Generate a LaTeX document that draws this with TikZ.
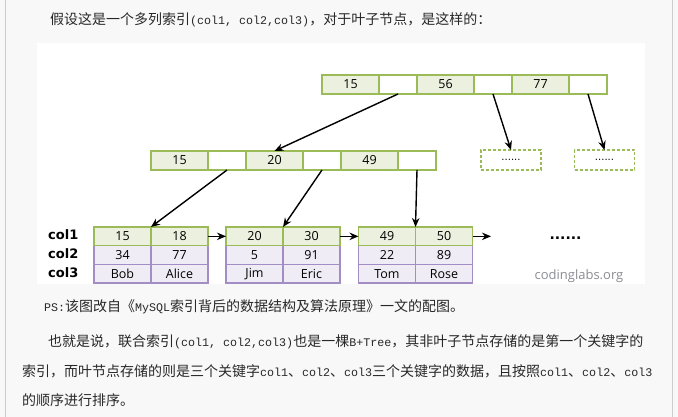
\documentclass[tikz,border=0pt]{standalone}
\usepackage{fontspec}
\setmainfont{DejaVu Sans}
\newfontfamily\cjkf{Noto Sans CJK SC}
\newfontfamily\monof{Liberation Mono}
\newfontfamily\opensans{Open Sans}
\usetikzlibrary{arrows.meta}

\definecolor{keyfill}{RGB}{235,241,222}
\definecolor{keyline}{RGB}{155,187,89}
\definecolor{rowfill}{RGB}{239,236,245}
\definecolor{rowline}{RGB}{162,142,196}
\definecolor{pagebg}{RGB}{248,248,248}
\definecolor{rulegray}{RGB}{204,204,204}
\definecolor{ink}{RGB}{40,40,40}
\definecolor{credit}{RGB}{140,140,150}

% latin runs inside the Chinese prose are set in a half-width mono face
\newcommand\ms[1]{{\monof\fontsize{11.67}{12}\selectfont #1}}

\tikzset{
  cell/.style={draw, line width=1.5pt, inner sep=0pt, outer sep=0pt,
    minimum height=19pt, anchor=west, font=\opensans\fontsize{12.5}{13}\selectfont},
  keycell/.style={cell, draw=keyline, fill=keyfill, minimum width=57pt},
  ptrcell/.style={cell, draw=keyline, fill=white, minimum width=38pt},
  leafkey/.style={cell, draw=keyline, fill=keyfill, minimum width=57pt, minimum height=18.67pt},
  datacell/.style={cell, draw=rowline, fill=rowfill, minimum width=57pt, minimum height=18.67pt},
  ghost/.style={draw=keyline, line width=1.5pt, dash pattern=on 3pt off 2pt, fill=white,
    minimum width=60pt, minimum height=20pt, inner sep=0pt, outer sep=0pt,
    font=\fontsize{10}{10}\selectfont},
  link/.style={line width=1.4pt, -{Stealth[length=9pt,width=7.5pt]}},
  rowlabel/.style={font=\bfseries\fontsize{13}{13}\selectfont, anchor=west, inner sep=0pt},
  prose/.style={font=\cjkf\fontsize{14}{14}\selectfont, text=ink, anchor=west, inner sep=0pt},
}

\begin{document}
\begin{tikzpicture}[x=1pt, y=-1pt]
  % page and content panel
  \fill[pagebg] (0,0) rectangle (678,417);
  \useasboundingbox (0,0) rectangle (678,417);
  \draw[rulegray, line width=1pt] (5.5,0) -- (5.5,417);
  \draw[rulegray, line width=1pt] (672.5,0) -- (672.5,417);
  \fill[white] (37,43) rectangle (645,284);

  \node[prose] (intro) at (50,20) {假设这是一个多列索引\ms{(col1, col2,col3)}，对于叶子节点，是这样的：};

  % root node
  \node[keycell] (r1) at (322,84.5) {15};
  \node[ptrcell] (r2) at (r1.east) {};
  \node[keycell] (r3) at (r2.east) {56};
  \node[ptrcell] (r4) at (r3.east) {};
  \node[keycell] (r5) at (r4.east) {77};
  \node[ptrcell] (r6) at (r5.east) {};

  % inner node
  \node[keycell] (m1) at (151,160.5) {15};
  \node[ptrcell] (m2) at (m1.east) {};
  \node[keycell] (m3) at (m2.east) {20};
  \node[ptrcell] (m4) at (m3.east) {};
  \node[keycell] (m5) at (m4.east) {49};
  \node[ptrcell] (m6) at (m5.east) {};

  % siblings left out
  \node[ghost] (g1) at (511,160) {......};
  \node[ghost] (g2) at (604.5,160) {......};

  % leaf rows: col2/col3 first, col1 on top
  \node[datacell] (l1c) at (94,255) {34};
  \node[datacell] (l1d) at (l1c.east) {77};
  \node[datacell] (l1e) at (94,273.67) {Bob};
  \node[datacell] (l1f) at (l1e.east) {Alice};
  \node[leafkey]  (l1a) at (94,236.33) {15};
  \node[leafkey]  (l1b) at (l1a.east) {18};

  \node[datacell] (l2c) at (226,255) {5};
  \node[datacell] (l2d) at (l2c.east) {91};
  \node[datacell] (l2e) at (226,273.67) {Jim};
  \node[datacell] (l2f) at (l2e.east) {Eric};
  \node[leafkey]  (l2a) at (226,236.33) {20};
  \node[leafkey]  (l2b) at (l2a.east) {30};

  \node[datacell] (l3c) at (358.5,255) {22};
  \node[datacell] (l3d) at (l3c.east) {89};
  \node[datacell] (l3e) at (358.5,273.67) {Tom};
  \node[datacell] (l3f) at (l3e.east) {Rose};
  \node[leafkey]  (l3a) at (358.5,236.33) {49};
  \node[leafkey]  (l3b) at (l3a.east) {50};

  \node[rowlabel] (c1) at (48,235) {col1};
  \node[rowlabel] (c2) at (48,254) {col2};
  \node[rowlabel] (c3) at (48,273) {col3};

  \coordinate (tail) at (491,236.33);
  \node[font=\bfseries\fontsize{14}{14}\selectfont, inner sep=0pt] (more) at (565.5,238) {......};
  \node[font=\opensans\fontsize{13}{13}\selectfont, text=credit, inner sep=0pt] (site) at (579,276) {codinglabs.org};

  % child pointers
  \draw[link] (r2.south) -- (m3.north);
  \draw[link] (r4.south) -- (g1.north);
  \draw[link] (r6.south) -- (g2.north);
  \draw[link] (m2.south) -- (l1a.north east);
  \draw[link] (m4.south) -- (l2a.north east);
  \draw[link] (m6.south) -- (l3a.north east);

  % leaf chain
  \draw[link] (l1b.east) -- (l2a.west);
  \draw[link] (l2b.east) -- (l3a.west);
  \draw[link] (l3b.east) -- (tail);

  % text below the figure
  \node[prose] (note) at (44,307) {\ms{PS:}该图改自《\ms{MySQL}索引背后的数据结构及算法原理》一文的配图。};
  \node[prose] (para1) at (48,342) {也就是说，联合索引\ms{(col1, col2,col3)}也是一棵\ms{B+Tree}，其非叶子节点存储的是第一个关键字的};
  \node[prose] (para2) at (22,371) {索引，而叶节点存储的则是三个关键字\ms{col1}、\ms{col2}、\ms{col3}三个关键字的数据，且按照\ms{col1}、\ms{col2}、\ms{col3}};
  \node[prose] (para3) at (22,400) {的顺序进行排序。};
\end{tikzpicture}
\end{document}
